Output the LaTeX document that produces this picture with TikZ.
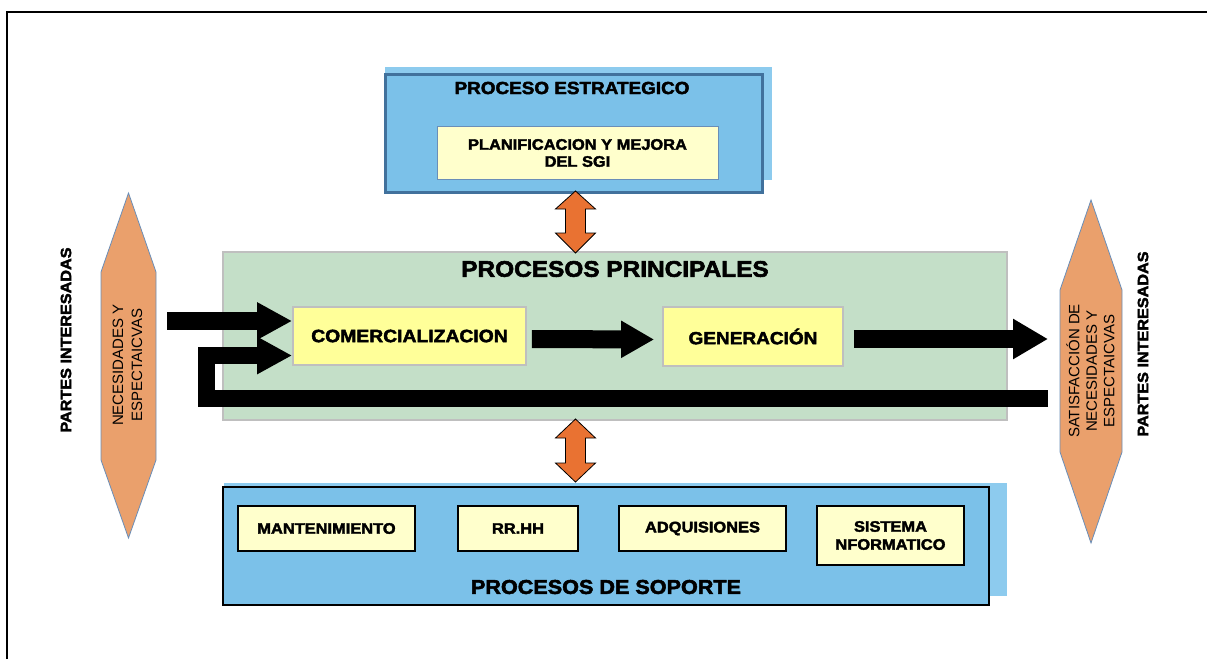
\documentclass[tikz,border=0pt]{standalone}
\usepackage{fontspec}
\setmainfont{Liberation Sans}
\newfontfamily\wide[FakeStretch=1.08,FakeBold=2.5]{Liberation Sans}
\usetikzlibrary{arrows.meta,calc}
\definecolor{bluefill}{HTML}{7BC1E9}
\definecolor{blueback}{HTML}{8DCBEE}
\definecolor{blueborder}{HTML}{41719C}
\definecolor{greenfill}{HTML}{C4DFC8}
\definecolor{greyborder}{HTML}{BFBFBF}
\definecolor{yel}{HTML}{FFFF99}
\definecolor{paleyel}{HTML}{FFFFCC}
\definecolor{hexfill}{HTML}{EAA06C}
\definecolor{hexborder}{HTML}{6A8EB8}
\definecolor{orangearrow}{HTML}{E97232}
\begin{document}
\begin{tikzpicture}[x=1pt,y=-1pt,
  boxshape/.style={rectangle,inner sep=0pt,align=center},
  backbox/.style={boxshape,fill=blueback,draw=none},
  mainbox/.style={boxshape,fill=bluefill},
  midbox/.style={boxshape,fill=yel,draw=greyborder,line width=1.8pt},
  supbox/.style={boxshape,fill=paleyel,draw=black,line width=2pt},
  heavytxt/.style={inner sep=0pt,align=center,font=\wide\bfseries},
  blk/.style={draw=black,line join=miter},
  dbl/.style={fill=orangearrow,draw=black,line width=0.8pt,line join=miter},
  hexa/.style={fill=hexfill,draw=hexborder,line width=0.8pt},
  hextxt/.style={inner sep=0pt,align=center,rotate=90}]
\useasboundingbox (0,0) rectangle (1207,659);
\fill[white] (0,0) rectangle (1207,659);
% frame
\draw[line width=2pt] (7,659) -- (7,12) -- (1207,12);

% top strategic box
\node[backbox,minimum width=387pt,minimum height=113pt] (topback) at (578.5,123.5) {};
\node[mainbox,draw=blueborder,line width=3pt,minimum width=377pt,minimum height=118pt] (topbox) at (573.5,133) {};
\node[heavytxt,font=\wide\bfseries\fontsize{17.5}{20}\selectfont] (toptitle) at (572,88) {PROCESO ESTRATEGICO};
\node[boxshape,fill=paleyel,draw=hexborder,line width=0.8pt,minimum width=281pt,minimum height=53pt,
  font=\wide\bfseries\fontsize{15.2}{17}\selectfont] (planif) at (577.5,153) {PLANIFICACION Y MEJORA\\DEL SGI};

% main processes
\node[boxshape,fill=greenfill,draw=greyborder,line width=2pt,minimum width=784pt,minimum height=168pt] (green) at (615,336) {};
\node[heavytxt,font=\wide\bfseries\fontsize{22.6}{26}\selectfont] (greentitle) at (615,269) {PROCESOS PRINCIPALES};
\node[midbox,minimum width=233pt,minimum height=58pt,font=\wide\bfseries\fontsize{17.9}{20}\selectfont] (comer) at (409.5,336) {COMERCIALIZACION};
\node[midbox,minimum width=180pt,minimum height=59pt,font=\wide\bfseries\fontsize{17.6}{20}\selectfont] (gen) at (753,336.5) {GENERACIÓN};

% support processes
\node[backbox,minimum width=783pt,minimum height=113pt] (botback) at (615.5,539.5) {};
\node[mainbox,draw=black,line width=2.5pt,minimum width=766pt,minimum height=118pt] (botbox) at (606,546) {};
\node[heavytxt,font=\wide\bfseries\fontsize{20}{23}\selectfont] (bottitle) at (606,587) {PROCESOS DE SOPORTE};
\node[supbox,minimum width=177pt,minimum height=45pt,font=\wide\bfseries\fontsize{15.2}{18}\selectfont] (mant) at (326.5,528.5) {MANTENIMIENTO};
\node[supbox,minimum width=120pt,minimum height=45pt,font=\wide\bfseries\fontsize{15.2}{18}\selectfont] (rrhh) at (518,528.5) {RR.HH};
\node[supbox,minimum width=167pt,minimum height=45pt,font=\wide\bfseries\fontsize{15.2}{18}\selectfont] (adq) at (702.5,528.5) {ADQUISIONES};
\node[supbox,minimum width=147pt,minimum height=59pt,font=\wide\bfseries\fontsize{15.2}{18}\selectfont] (sis) at (890.5,535.5) {SISTEMA\\NFORMATICO};

% hexagons
\draw[hexa] (128.5,193) -- (156,272) -- (156,460) -- (128.5,538) -- (101,460) -- (101,272) -- cycle;
\node[hextxt,font=\fontsize{15}{19}\selectfont] (hexL) at (127.5,365) {NECESIDADES Y\\ESPECTAICVAS};
\draw[hexa] (1091,200) -- (1122,290) -- (1122,452) -- (1091,543) -- (1060,452) -- (1060,290) -- cycle;
\node[hextxt,font=\fontsize{15}{17.5}\selectfont] (hexR) at (1090.5,371) {SATISFACCIÓN DE\\NECESIDADES Y\\ESPECTAICVAS};
\node[heavytxt,rotate=90,font=\wide\bfseries\fontsize{15}{18}\selectfont] (partesL) at (66,340) {PARTES INTERESADAS};
\node[heavytxt,rotate=90,font=\wide\bfseries\fontsize{15}{18}\selectfont] (partesR) at (1143,344) {PARTES INTERESADAS};

% black block arrows
\coordinate (inL) at (167,321);
\coordinate (outR) at (1048,339);
\coordinate (fbR) at (1048,398);
\coordinate (fbL) at (206,398);
\draw[blk,line width=18pt,-{Triangle[width=35pt,length=35pt]}] (inL) -- ([yshift=15pt]comer.west);
\draw[blk,line width=17pt,-{Triangle[width=35pt,length=35pt]}] (fbR) -- (fbL) |- ([yshift=-19.5pt]comer.west);
\draw[blk,line width=18pt,-{Triangle[width=35pt,length=33pt]},shorten <=5pt,shorten >=8pt] ([yshift=-3pt]comer.east) -- ([yshift=-3pt]gen.west);
\draw[blk,line width=18pt,-{Triangle[width=38pt,length=35pt]},shorten <=10pt] (gen.east |- outR) -- (outR);

% orange double arrows
\coordinate (d1) at (575.5,191);
\coordinate (d2) at (575.5,419);
\draw[dbl] (d1) -- ++(20,18) -- ++(-10,0) -- ++(0,24) -- ++(10,0) -- ++(-20,20) -- ++(-20,-20) -- ++(10,0) -- ++(0,-24) -- ++(-10,0) -- cycle;
\draw[dbl] (d2) -- ++(20,19) -- ++(-10,0) -- ++(0,25) -- ++(10,0) -- ++(-20,19) -- ++(-20,-19) -- ++(10,0) -- ++(0,-25) -- ++(-10,0) -- cycle;
\end{tikzpicture}
\end{document}
